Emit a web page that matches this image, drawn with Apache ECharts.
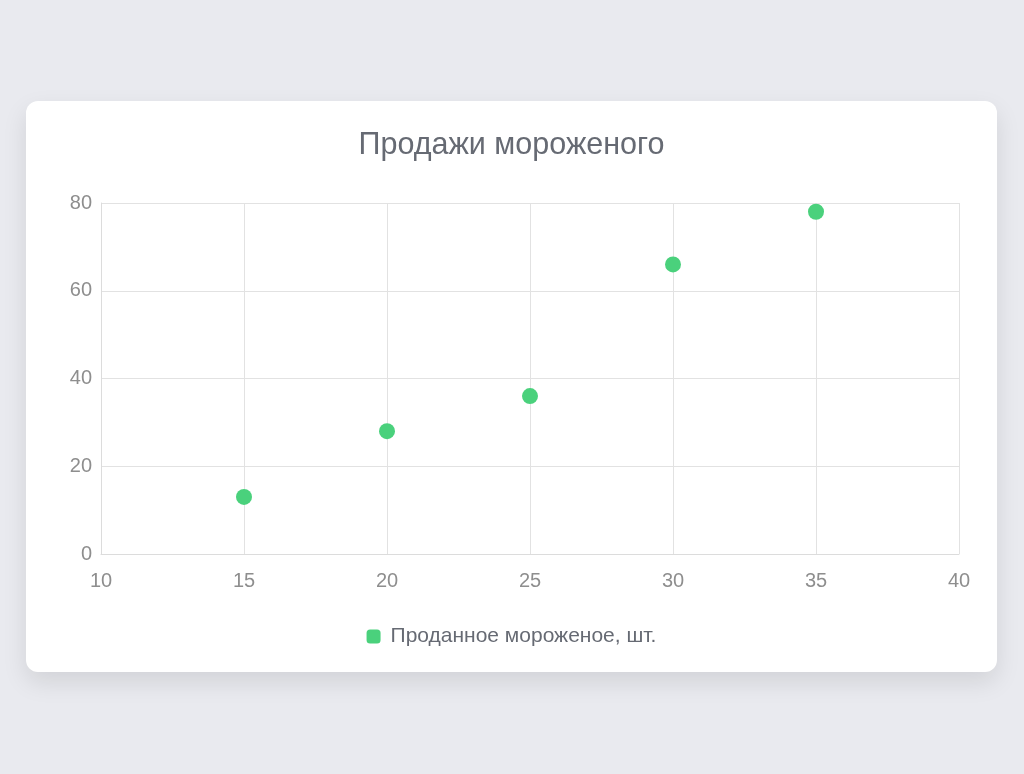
<!DOCTYPE html>
<html><head><meta charset="utf-8">
<script src="https://cdn.jsdelivr.net/npm/echarts@6/dist/echarts.min.js"></script>
<style>
html,body{margin:0;padding:0;width:1024px;height:774px;background:#e9eaef;overflow:hidden;}
#card{position:absolute;left:26px;top:101px;width:971px;height:571px;background:#fff;border-radius:12px;box-shadow:0 10px 24px rgba(0,0,0,0.10);}
#chart{position:absolute;left:0;top:0;width:971px;height:571px;}
</style></head>
<body>
<div id="card"><div id="chart"></div></div>
<script>
const titleText = 'Продажи мороженого';
const seriesName = 'Проданное мороженое, шт.';
const temperatures = [15, 20, 25, 30, 35];
const iceCreamSold = [13, 28, 36, 66, 78];
const xMin = 10, xMax = 40, xStep = 5;
const yMin = 0, yMax = 80, yStep = 20;

const chart = echarts.init(document.getElementById('chart'), null, {renderer:'canvas'});
const font = '"Liberation Sans", Arial, sans-serif';
chart.setOption({
  animation:false,
  title:{text:titleText,left:'center',top:24,textStyle:{fontFamily:font,fontSize:30.5,fontWeight:'normal',color:'#666a73'}},
  legend:{bottom:20,left:'center',itemWidth:14,itemHeight:14,itemGap:9,
    icon:'roundRect',
    textStyle:{fontFamily:font,fontSize:21,color:'#666a73',padding:[0,0,0,5]},
    data:[seriesName]},
  grid:{left:75,right:38,top:102,bottom:118,containLabel:false},
  xAxis:{type:'value',min:xMin,max:xMax,interval:xStep,
    axisLine:{show:true,lineStyle:{color:'#dcdcdc'}},
    axisTick:{show:false},
    axisLabel:{margin:17,fontFamily:font,fontSize:20,color:'#8e8e8e'},
    splitLine:{show:true,lineStyle:{color:'#e2e2e2'}}},
  yAxis:{type:'value',min:yMin,max:yMax,interval:yStep,
    axisLine:{show:true,lineStyle:{color:'#dcdcdc'}},
    axisTick:{show:false},
    axisLabel:{margin:9,fontFamily:font,fontSize:20,color:'#8e8e8e'},
    splitLine:{show:true,lineStyle:{color:'#e2e2e2'}}},
  series:[{name:seriesName,type:'scatter',symbolSize:16,
    itemStyle:{color:'#4ad17c',opacity:1},
    data:temperatures.map((t,i)=>[t,iceCreamSold[i]])}]
});
</script>
</body></html>
